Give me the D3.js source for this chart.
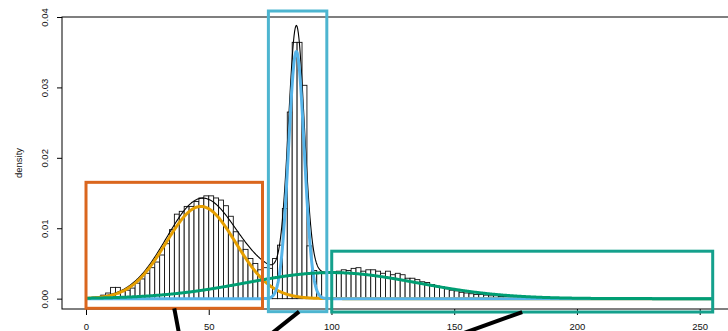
<!DOCTYPE html>
<html>
<head>
<meta charset="utf-8">
<script src="https://cdn.jsdelivr.net/npm/d3@7"></script>
<style>
  html, body { margin: 0; padding: 0; background: #fff; }
  svg { display: block; }
  text { font-family: "Liberation Sans", Arial, Helvetica, sans-serif; fill: #111; }
</style>
</head>
<body>
<svg id="chart" width="728" height="331"></svg>
<script>
// Histogram of intensities: bins of width 2 starting at 0, heights as density
const binWidth = 2;
const binStart = 0;
const binDensity = [
  0.0000, 0.0000, 0.0001, 0.0005, 0.0008, 0.0016, 0.0016, 0.0010, 0.0012, 0.0015,
  0.0022, 0.0028, 0.0036, 0.0044, 0.0052, 0.0062, 0.0078, 0.0098, 0.0120, 0.0124,
  0.0131, 0.0131, 0.0138, 0.0143, 0.0146, 0.0146, 0.0143, 0.0140, 0.0132, 0.0117,
  0.0095, 0.0082, 0.0070, 0.0057, 0.0050, 0.0041, 0.0044, 0.0043, 0.0057, 0.0076,
  0.0128, 0.0265, 0.0364, 0.0364, 0.0303, 0.0075, 0.0040, 0.0036, 0.0036, 0.0036,
  0.0038, 0.0039, 0.0041, 0.0040, 0.0043, 0.0044, 0.0039, 0.0041, 0.0041, 0.0039,
  0.0036, 0.0039, 0.0034, 0.0036, 0.0034, 0.0029, 0.0029, 0.0027, 0.0024, 0.0023,
  0.0020, 0.0018, 0.0017, 0.0014, 0.0012, 0.0011, 0.0009, 0.0008, 0.0007, 0.0006,
  0.0006, 0.0005, 0.0004, 0.0004, 0.0003, 0.0003, 0.0002, 0.0002, 0.0001, 0.0001
];

// Fitted Gaussian mixture components
const componentMeans   = [46.8, 85.7, 100.0];
const componentSds     = [14.2, 3.2, 35.0];
const componentWeights = [0.466, 0.2815, 0.3246];
const curveRange = [0, 255];

// Highlighted regions (data units)
const regionStart  = [0, 74.3, 100.1];
const regionEnd    = [71.9, 98.1, 255.3];
const regionTop    = [0.01652, 0.04085, 0.00674];
const regionBottom = [-0.00137, -0.00185, -0.0019];

// Axis ticks
const xTicks = [0, 50, 100, 150, 200, 250];
const yTicks = [0, 0.01, 0.02, 0.03, 0.04];
const yTitle = "density";

// Styles
const curveColors  = ["#E69F00", "#56B4E9", "#009E73"];
const regionColors = ["#DA661E", "#4DB5D0", "#14A08C"];

const svg = d3.select("#chart");
const plot = { left: 62, right: 737, top: 17, bottom: 309 };

const x = d3.scaleLinear().domain([-9.78, 265.2]).range([plot.left, plot.right]);
const y = d3.scaleLinear().domain([-0.00147, 0.04]).range([plot.bottom, plot.top]);

// Plot frame
svg.append("rect")
  .attr("x", plot.left).attr("y", plot.top)
  .attr("width", plot.right - plot.left).attr("height", plot.bottom - plot.top)
  .attr("fill", "none").attr("stroke", "#000").attr("stroke-width", 1);

// Y axis with rotated labels
const yAxis = svg.append("g")
  .attr("transform", `translate(${plot.left},0)`)
  .call(d3.axisLeft(y).tickValues(yTicks).tickSize(5).tickFormat(d3.format(".2f")));
yAxis.select(".domain").remove();
yAxis.selectAll("line").attr("stroke", "#000");
yAxis.selectAll("text")
  .attr("transform", "rotate(-90)")
  .attr("x", 0).attr("y", -14.5).attr("dy", 0)
  .attr("text-anchor", "middle")
  .style("font-size", "9.5px").attr("fill", "#111");

// X axis
const xAxis = svg.append("g")
  .attr("transform", `translate(0,${plot.bottom})`)
  .call(d3.axisBottom(x).tickValues(xTicks).tickSize(6).tickFormat(d3.format("d")));
xAxis.select(".domain").remove();
xAxis.selectAll("line").attr("stroke", "#000");
xAxis.selectAll("text")
  .attr("y", 20.5).attr("dy", 0)
  .style("font-size", "9.5px").attr("fill", "#111");

// Y title
svg.append("text")
  .attr("transform", `translate(22,${(plot.top + plot.bottom) / 2}) rotate(-90)`)
  .attr("text-anchor", "middle")
  .style("font-size", "9.5px")
  .text(yTitle);

// Histogram bars
svg.append("g").selectAll("rect")
  .data(binDensity)
  .join("rect")
  .attr("x", (d, i) => x(binStart + i * binWidth))
  .attr("y", d => y(d))
  .attr("width", x(binWidth) - x(0))
  .attr("height", d => y(0) - y(d))
  .attr("fill", "#fff")
  .attr("stroke", "#111")
  .attr("stroke-width", 0.9);

// Mixture densities
const normalPdf = (v, m, s) => Math.exp(-0.5 * ((v - m) / s) ** 2) / (s * Math.sqrt(2 * Math.PI));
const grid = d3.range(curveRange[0], curveRange[1] + 0.001, 0.25);
const componentDensity = (k, v) => componentWeights[k] * normalPdf(v, componentMeans[k], componentSds[k]);
const line = d3.line().x(d => x(d[0])).y(d => y(d[1]));

// total mixture (thin black)
svg.append("path")
  .datum(grid.map(v => [v, d3.sum(componentMeans, (_, k) => componentDensity(k, v))]))
  .attr("d", line)
  .attr("fill", "none").attr("stroke", "#000").attr("stroke-width", 1.1);

// individual components (thick colored)
componentMeans.forEach((_, k) => {
  svg.append("path")
    .datum(grid.map(v => [v, componentDensity(k, v)]))
    .attr("d", line)
    .attr("fill", "none")
    .attr("stroke", curveColors[k])
    .attr("stroke-width", 3)
    .attr("stroke-linejoin", "round");
});

// Region boxes
const regions = regionStart.map((s, i) => ({ s, e: regionEnd[i], t: regionTop[i], b: regionBottom[i], i }));
svg.append("g").selectAll("rect")
  .data(regions)
  .join("rect")
  .attr("x", d => x(d.s))
  .attr("y", d => y(d.t))
  .attr("width", d => x(d.e) - x(d.s))
  .attr("height", d => y(d.b) - y(d.t))
  .attr("fill", "none")
  .attr("stroke", d => regionColors[d.i])
  .attr("stroke-width", 3);

// Connectors running from each box down to the detail panels below
const connectorSlopes = [0.19, -1.26, -2.78]; // horizontal shift per pixel of drop
svg.append("g").selectAll("line")
  .data(regions)
  .join("line")
  .attr("x1", d => (x(d.s) + x(d.e)) / 2 + (d.i === 1 ? 1.5 : 0))
  .attr("y1", d => y(d.b))
  .attr("x2", d => (x(d.s) + x(d.e)) / 2 + (d.i === 1 ? 1.5 : 0) + connectorSlopes[d.i] * (345 - y(d.b)))
  .attr("y2", 345)
  .attr("stroke", "#000")
  .attr("stroke-width", 4);
</script>
</body>
</html>
